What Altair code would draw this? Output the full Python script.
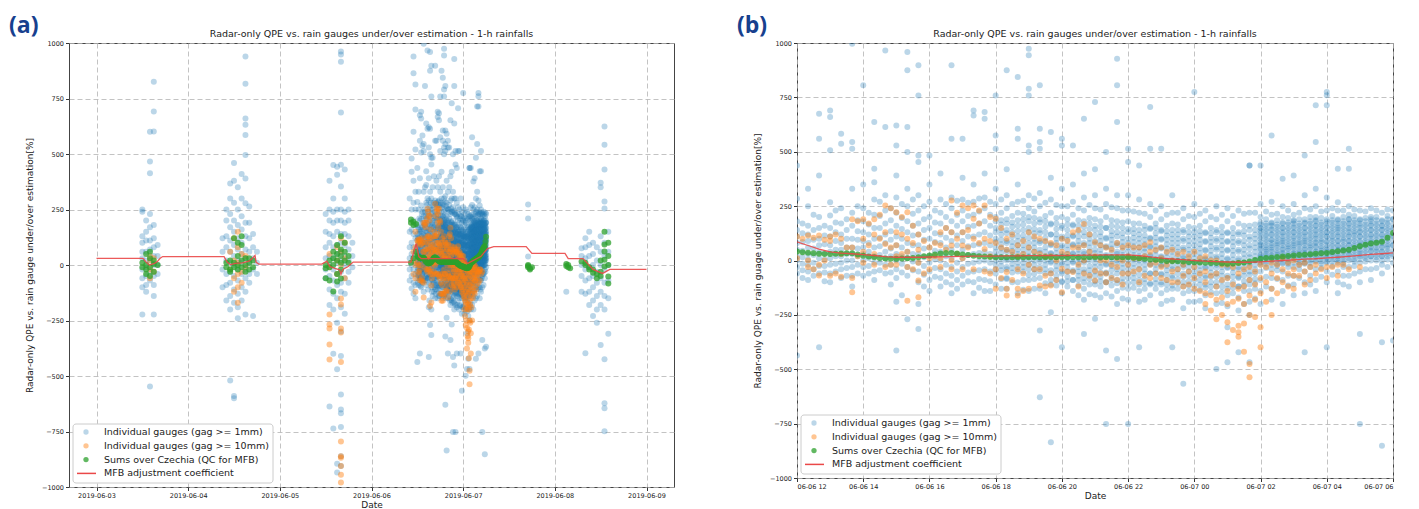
import altair as alt
import pandas as pd

S_BLUE = "Individual gauges (gag >= 1mm)"
S_ORANGE = "Individual gauges (gag >= 10mm)"
S_GREEN = "Sums over Czechia (QC for MFB)"
S_MFB = "MFB adjustment coefficient"
SERIES = [S_BLUE, S_ORANGE, S_GREEN, S_MFB]
COLORS = ["#1f77b4", "#ff7f0e", "#2ca02c", "#ea4848"]
OPAC = [0.3, 0.45, 0.75, 0.9]

TITLE = "Radar-only QPE vs. rain gauges under/over estimation - 1-h rainfalls"
YTITLE_A = "Radar-only QPE vs. rain gauge under/over estimation[%]"
YTITLE_B = "Radar-only QPE vs. rain guage under/over estimation[%]"
Y_TICKS = [-1000, -750, -500, -250, 0, 250, 500, 750, 1000]
# x tick positions: (month, day, hour)
A_TICKS = [(6, 3, 0), (6, 4, 0), (6, 5, 0), (6, 6, 0), (6, 7, 0), (6, 8, 0), (6, 9, 0)]
B_TICKS = [(6, 6, 12), (6, 6, 14), (6, 6, 16), (6, 6, 18), (6, 6, 20), (6, 6, 22),
           (6, 7, 0), (6, 7, 2), (6, 7, 4), (6, 7, 6)]

# ---------------- event 2019-06-06 12:00 -> 2019-06-07 06:00 (panel b, also in a)
B_TIMES = [
    "2019-06-06 12:00", "2019-06-06 12:20", "2019-06-06 12:40", "2019-06-06 13:00", "2019-06-06 13:20",
    "2019-06-06 13:40", "2019-06-06 14:00", "2019-06-06 14:20", "2019-06-06 14:40", "2019-06-06 15:00",
    "2019-06-06 15:20", "2019-06-06 15:40", "2019-06-06 16:00", "2019-06-06 16:20", "2019-06-06 16:40",
    "2019-06-06 17:00", "2019-06-06 17:20", "2019-06-06 17:40", "2019-06-06 18:00", "2019-06-06 18:20",
    "2019-06-06 18:40", "2019-06-06 19:00", "2019-06-06 19:20", "2019-06-06 19:40", "2019-06-06 20:00",
    "2019-06-06 20:20", "2019-06-06 20:40", "2019-06-06 21:00", "2019-06-06 21:20", "2019-06-06 21:40",
    "2019-06-06 22:00", "2019-06-06 22:20", "2019-06-06 22:40", "2019-06-06 23:00", "2019-06-06 23:20",
    "2019-06-06 23:40", "2019-06-07 00:00", "2019-06-07 00:20", "2019-06-07 00:40", "2019-06-07 01:00",
    "2019-06-07 01:20", "2019-06-07 01:40", "2019-06-07 02:00", "2019-06-07 02:20", "2019-06-07 02:40",
    "2019-06-07 03:00", "2019-06-07 03:20", "2019-06-07 03:40", "2019-06-07 04:00", "2019-06-07 04:20",
    "2019-06-07 04:40", "2019-06-07 05:00", "2019-06-07 05:20", "2019-06-07 05:40", "2019-06-07 06:00",
]
B_BLUE = [
    [437, 284, 180, 140, 110, 80, 50, 20, 0, -30, -60, -437],
    [330, 250, 160, 120, 90, 60, 30, 5, -20, -50, -90],
    [675, 560, 391, 200, 150, 100, 70, 40, 10, -25, -60, -399],
    [690, 660, 507, 268, 207, 150, 110, 70, 40, 10, -20, -60, -100],
    [583, 537, 240, 170, 120, 80, 50, 20, -10, -40, -80],
    [997, 545, 514, 330, 220, 160, 100, 60, 30, 0, -30, -70, -120],
    [806, 350, 240, 180, 130, 90, 60, 30, 0, -30, -70],
    [637, 422, 360, 280, 210, 150, 100, 60, 20, -10, -50, -90],
    [966, 614, 300, 230, 170, 120, 80, 40, 10, -20, -60],
    [621, 529, 391, 290, 220, 160, 110, 70, 30, 0, -40, -80, -190, -414],
    [959, 875, 614, 499, 330, 250, 180, 130, 80, 40, 10, -30, -70, -270],
    [898, 759, 483, 453, 300, 230, 170, 120, 70, 30, -10, -50, -100, -200, -315],
    [483, 350, 270, 200, 150, 100, 60, 20, -10, -50, -90, -140],
    [400, 280, 220, 170, 120, 80, 40, 0, -40, -80, -120],
    [898, 560, 290, 240, 180, 130, 90, 50, 10, -30, -70, -110, -150],
    [560, 380, 280, 230, 180, 130, 90, 50, 10, -30, -70, -110],
    [690, 667, 350, 270, 210, 160, 110, 70, 30, -10, -50, -100, -150],
    [683, 652, 400, 290, 240, 180, 130, 80, 40, 0, -40, -90, -140],
    [759, 575, 514, 330, 260, 200, 150, 100, 60, 20, -20, -60, -110],
    [875, 420, 300, 240, 190, 140, 90, 50, 10, -30, -80, -130],
    [844, 606, 560, 350, 270, 220, 160, 110, 70, 30, -10, -50, -100, -150],
    [974, 944, 790, 759, 529, 499, 300, 240, 180, 130, 80, 40, 0, -40, -90, -140],
    [806, 606, 545, 514, 310, 250, 190, 140, 90, 50, 10, -30, -80, -130, -322, -629],
    [591, 380, 280, 220, 170, 120, 70, 30, -10, -60, -110, -238, -836],
    [560, 529, 330, 250, 200, 150, 100, 60, 20, -20, -60, -100, -150, -399],
    [529, 350, 270, 210, 160, 110, 70, 30, -10, -50, -90, -140],
    [652, 400, 290, 230, 180, 130, 80, 40, 0, -40, -80, -130, -180, -338],
    [729, 420, 300, 240, 190, 140, 90, 50, 10, -30, -70, -110, -160, -268],
    [499, 330, 260, 200, 150, 100, 60, 20, -20, -60, -100, -150, -414, -752],
    [928, 806, 637, 300, 240, 180, 130, 80, 40, 0, -40, -90, -140, -200, -453],
    [514, 453, 300, 230, 180, 130, 80, 40, 0, -40, -80, -130, -180, -752],
    [437, 280, 220, 170, 120, 80, 40, 0, -40, -90, -140, -190, -399],
    [706, 514, 260, 200, 150, 100, 60, 20, -20, -60, -110, -160],
    [514, 250, 190, 140, 100, 60, 20, -20, -60, -100, -150, -200],
    [300, 220, 170, 120, 80, 40, 0, -40, -80, -130, -180, -399],
    [240, 190, 140, 100, 60, 20, -20, -60, -100, -150, -220, -567],
    [775, 260, 200, 150, 110, 70, 30, -10, -50, -90, -140, -190],
    [230, 180, 130, 90, 50, 10, -30, -70, -110, -160, -220],
    [250, 190, 140, 100, 60, 20, -20, -60, -100, -150, -200, -499],
    [240, 180, 130, 90, 50, 10, -30, -70, -110, -160, -210, -307, -468],
    [230, 170, 120, 80, 40, 0, -40, -80, -120, -170, -230, -422],
    [437, 437, 220, 160, 110, 70, 30, -10, -50, -90, -140, -190, -250, -468],
    [437, 260, 200, 165, 150, 135, 110, 85, 70, 55, 30, 15, -10, -50, -90, -140, -200],
    [575, 270, 210, 175, 160, 140, 120, 95, 80, 60, 40, 20, 0, -40, -80, -130, -180],
    [376, 250, 200, 170, 150, 130, 110, 90, 70, 50, 30, 10, -10, -50, -90, -140, -200],
    [391, 260, 210, 185, 170, 150, 130, 110, 90, 70, 50, 30, 10, -30, -70, -110, -160],
    [483, 300, 240, 190, 170, 150, 130, 110, 90, 70, 50, 30, 10, -10, -50, -100, -150, -422],
    [714, 545, 330, 250, 200, 180, 160, 140, 120, 100, 80, 60, 40, 20, 0, -40, -90, -140],
    [775, 760, 714, 290, 230, 190, 170, 150, 130, 110, 90, 70, 50, 30, 10, -10, -50, -100, -399],
    [422, 268, 230, 190, 170, 150, 130, 110, 90, 70, 50, 30, 10, -10, -50, -100, -150],
    [514, 422, 250, 210, 190, 170, 150, 130, 110, 90, 70, 50, 30, 10, -30, -70, -120],
    [230, 190, 170, 150, 130, 110, 90, 70, 50, 30, 10, -10, -50, -100, -338, -752],
    [240, 200, 180, 160, 140, 120, 100, 80, 60, 40, 20, 0, -40, -90],
    [220, 180, 160, 140, 120, 100, 80, 60, 40, 20, 0, -20, -60, -376, -852],
    [230, 190, 150, 110, 70, 30, -10, -368],
]
B_ORANGE = [
    [110, 10], [115, 0, -30], [115, -20, -69], [110, 90, -70], [100, 30, -75],
    [190, 60, -80, -146], [190, 100, 40, -10], [190, 120, 30, -20], [253, 130, 76, -30],
    [222, 130, 70, 20, -20], [222, 100, 40, -30, -185], [120, 50, -10, -92, -169],
    [60, 10, -40], [130, 70, 10, -30], [276, 130, 69, 0, -40], [253, 130, 69, 10, -40],
    [253, 192, 100, -40], [253, 100, 53, -50], [192, 80, -40, -130], [100, 50, -53, -130, -161],
    [70, 20, -40, -130, -161], [130, 60, -20, -130], [100, 30, -40, -115], [80, 20, -60, -115],
    [100, 40, -38, -146], [130, 60, -53], [168, 70, 0, -60], [84, 20, -46, -92],
    [60, 0, -60, -100], [80, 10, -30, -90], [70, 20, -20, -60], [60, 10, -40, -100],
    [84, 40, -20, -80], [60, 10, -30, -80], [50, 0, -50, -100], [40, -20, -70, -120],
    [40, -30, -80, -130], [20, -50, -100, -150, -200], [0, -60, -120, -180, -270],
    [-20, -80, -140, -200, -284, -376], [-10, -60, -130, -176, -300, -330, -350],
    [-30, -90, -161, -250, -476, -537], [-20, -80, -150, -307, -399], [-10, -60, -130, -250],
    [10, -40, -100], [0, -40, -70, -130], [-10, -50, -110], [-20, -60], [-30, -80],
    [-20, -70], [-40], [-30], [], [], [],
]
B_GREEN = [41, 36, 31, 30, 32, 33, 22, 15, 9, 8, 10, 15, 23, 32, 35, 28, 22, 18, 15, 15,
           15, 15, 15, 15, 15, 15, 15, 15, 15, 15, 15, 10, 5, 0, -3, -5, -8, -10, -12, -15,
           -12, -5, 8, 13, 18, 23, 27, 31, 35, 42, 50, 65, 78, 86, 127]
B_MFB = [86, 69, 52, 40, 34, 31, 27, 23, 18, 15, 15, 15, 16, 17, 18, 19, 20, 20, 20, 21,
         21, 22, 22, 23, 23, 24, 25, 25, 26, 26, 26, 22, 17, 11, 7, 4, 0, -3, -5, -7,
         -8, -8, -6, -3, 0, 3, 6, 8, 12, 15, 19, 24, 28, 31, 35]
# extra gauges inside the dense band, same steps as B_TIMES from 18:00 on
B_DENSE = [
    [180, 130, 85, 40, 0, -40], [170, 125, 80, 40, 0, -40, -85], [185, 135, 90, 50, 10, -30],
    [200, 150, 105, 60, 20, -20, -65], [175, 125, 80, 35, -5, -50], [165, 120, 75, 35, -5, -45, -90],
    [160, 110, 70, 30, -10, -50, -95], [165, 115, 75, 35, -5, -45, -90], [155, 110, 70, 30, -10, -55, -100],
    [160, 115, 75, 35, -10, -50, -95], [150, 105, 65, 25, -15, -55, -100], [155, 110, 70, 30, -15, -60, -105],
    [145, 100, 60, 20, -20, -60, -105], [140, 100, 60, 20, -20, -65, -110], [145, 105, 65, 25, -15, -60, -105],
    [135, 95, 55, 15, -25, -65, -110], [140, 100, 60, 20, -25, -70, -115], [130, 90, 50, 10, -30, -75, -120],
    [130, 90, 50, 10, -30, -70, -115], [125, 85, 45, 5, -35, -80, -125], [130, 90, 50, 10, -35, -75, -120],
    [125, 85, 45, 5, -35, -80, -130], [130, 90, 50, 10, -30, -75, -120], [140, 95, 55, 15, -25, -65, -110],
    [175, 150, 125, 100, 75, 50, 25, 5, -20], [170, 145, 120, 95, 70, 50, 25, 5, -20],
    [175, 150, 125, 100, 80, 55, 35, 10, -15], [180, 155, 130, 105, 80, 60, 35, 15, -10],
    [175, 150, 125, 100, 80, 55, 35, 10, -15], [185, 160, 135, 110, 85, 65, 40, 20, -5],
    [180, 155, 130, 110, 85, 60, 40, 15, -5], [185, 160, 140, 115, 90, 65, 45, 20, 0],
    [190, 165, 140, 115, 90, 70, 45, 25, 0], [185, 160, 135, 110, 85, 65, 40, 20],
    [190, 165, 140, 115, 90, 65, 45, 20], [185, 160, 140, 115, 90, 65, 40, 20],
    [190, 165, 140, 115, 90, 70, 45, 20],
]

# in-between 10-minute steps of the same event
M_TIMES = [
    "2019-06-06 12:10", "2019-06-06 12:30", "2019-06-06 12:50", "2019-06-06 13:10", "2019-06-06 13:30",
    "2019-06-06 13:50", "2019-06-06 14:10", "2019-06-06 14:30", "2019-06-06 14:50", "2019-06-06 15:10",
    "2019-06-06 15:30", "2019-06-06 15:50", "2019-06-06 16:10", "2019-06-06 16:30", "2019-06-06 16:50",
    "2019-06-06 17:10", "2019-06-06 17:30", "2019-06-06 17:50", "2019-06-06 18:10", "2019-06-06 18:30",
    "2019-06-06 18:50", "2019-06-06 19:10", "2019-06-06 19:30", "2019-06-06 19:50", "2019-06-06 20:10",
    "2019-06-06 20:30", "2019-06-06 20:50", "2019-06-06 21:10", "2019-06-06 21:30", "2019-06-06 21:50",
    "2019-06-06 22:10", "2019-06-06 22:30", "2019-06-06 22:50", "2019-06-06 23:10", "2019-06-06 23:30",
    "2019-06-06 23:50", "2019-06-07 00:10", "2019-06-07 00:30", "2019-06-07 00:50", "2019-06-07 01:10",
    "2019-06-07 01:30", "2019-06-07 01:50", "2019-06-07 02:10", "2019-06-07 02:30", "2019-06-07 02:50",
    "2019-06-07 03:10", "2019-06-07 03:30", "2019-06-07 03:50", "2019-06-07 04:10", "2019-06-07 04:30",
    "2019-06-07 04:50", "2019-06-07 05:10", "2019-06-07 05:30", "2019-06-07 05:50",
]
M_BLUE = [
    [170, 125, 85, 45, 15, -15, -45, -80], [210, 140, 95, 55, 25, -10, -40, -70],
    [160, 115, 75, 35, 5, -25, -55, -95], [230, 175, 130, 90, 50, 20, -15, -50],
    [190, 140, 100, 60, 30, 0, -35, -70], [250, 185, 135, 95, 55, 20, -20, -60],
    [220, 165, 120, 80, 40, 10, -25, -60], [270, 205, 150, 105, 65, 25, -10, -45],
    [240, 185, 135, 95, 55, 20, -20, -55, -110], [260, 195, 145, 100, 60, 20, -15, -55, -160],
    [280, 215, 160, 115, 70, 30, -5, -45], [250, 190, 140, 95, 55, 15, -25, -65, -120],
    [230, 175, 125, 85, 45, 5, -35, -75], [260, 200, 150, 105, 60, 20, -20, -60, -100],
    [275, 210, 160, 115, 70, 30, -10, -50, -90, -130], [265, 205, 155, 110, 65, 25, -15, -55, -95],
    [285, 225, 170, 120, 75, 35, -5, -45, -85, -125], [270, 210, 160, 115, 70, 30, -10, -50, -95, -140],
    [280, 220, 165, 120, 75, 35, -5, -45, -85, -130], [260, 205, 155, 110, 65, 25, -15, -55, -100],
    [275, 215, 165, 115, 70, 30, -10, -50, -90, -135], [285, 225, 170, 125, 80, 40, 0, -40, -85, -130],
    [265, 205, 155, 105, 60, 20, -20, -60, -105, -150], [255, 195, 145, 100, 55, 15, -25, -70, -115],
    [250, 190, 140, 95, 50, 10, -30, -75, -120], [240, 185, 135, 90, 50, 10, -30, -70, -115, -160],
    [255, 195, 145, 100, 60, 20, -25, -65, -110, -155], [235, 180, 130, 90, 50, 10, -30, -75, -120, -170],
    [245, 185, 135, 95, 55, 15, -25, -70, -115, -165], [230, 175, 125, 85, 45, 5, -35, -80, -125, -175],
    [225, 170, 125, 85, 45, 5, -35, -80, -125], [215, 160, 115, 75, 40, 0, -40, -85, -130, -180],
    [230, 170, 125, 85, 45, 5, -40, -85, -130], [210, 160, 115, 75, 35, -5, -45, -90, -135, -185],
    [220, 165, 120, 80, 40, 0, -40, -85, -130], [205, 155, 110, 70, 30, -10, -50, -95, -140, -190],
    [215, 160, 115, 75, 35, -5, -45, -90, -135, -185], [200, 150, 105, 65, 25, -15, -55, -100, -145],
    [210, 155, 110, 70, 30, -10, -50, -95, -145, -195], [205, 150, 105, 65, 25, -15, -55, -100, -150],
    [215, 160, 115, 70, 30, -10, -50, -95, -140, -200], [220, 165, 120, 80, 40, 0, -40, -85, -130, -175],
    [225, 190, 160, 135, 110, 85, 60, 40, 20, -5, -35, -75, -120],
    [215, 185, 155, 130, 105, 80, 60, 35, 10, -15, -45, -85],
    [230, 195, 165, 140, 115, 90, 65, 45, 20, -5, -30, -70, -115],
    [220, 190, 160, 135, 110, 85, 65, 40, 15, -10, -40, -80],
    [235, 200, 170, 145, 120, 95, 70, 50, 25, 0, -30, -70, -110],
    [225, 195, 165, 140, 115, 90, 65, 45, 20, -5, -35, -75],
    [240, 205, 175, 150, 125, 100, 75, 50, 30, 5, -25, -65],
    [230, 200, 170, 145, 120, 95, 70, 50, 25, 0, -30, -70, -110],
    [235, 205, 175, 150, 125, 100, 75, 55, 30, 5, -25, -60],
    [225, 195, 165, 140, 115, 90, 70, 45, 20, -5, -40],
    [230, 200, 170, 145, 120, 95, 75, 50, 25, 0, -35],
    [235, 205, 175, 150, 125, 100, 75, 55, 30, 5, -30],
]
# extra gauges inside the dense band, same steps as M_TIMES from 18:10 on
M_DENSE = [
    [185, 140, 95, 55, 15, -25], [175, 130, 85, 45, 5, -35], [190, 140, 95, 50, 10, -30],
    [195, 145, 100, 60, 20, -20, -60], [180, 130, 85, 40, 0, -40], [170, 120, 80, 35, -5, -45, -90],
    [165, 115, 70, 30, -10, -50, -95], [160, 110, 70, 30, -10, -50, -90], [170, 120, 80, 40, 0, -45, -85],
    [155, 110, 70, 30, -10, -55, -95], [160, 115, 75, 35, -5, -45, -90], [150, 105, 65, 25, -15, -55, -100],
    [145, 105, 65, 25, -15, -60, -100], [140, 95, 55, 20, -20, -60, -105], [150, 105, 65, 25, -20, -60, -105],
    [135, 95, 55, 15, -25, -65, -110], [140, 100, 60, 20, -20, -60, -105], [130, 90, 50, 10, -30, -70, -115],
    [135, 95, 55, 15, -25, -65, -110], [125, 85, 45, 5, -35, -75, -120], [130, 90, 50, 10, -30, -70, -120],
    [125, 85, 45, 5, -35, -75, -125], [135, 90, 50, 10, -30, -70, -115], [140, 100, 60, 20, -20, -60, -105],
    [170, 145, 120, 95, 70, 50, 30, 10, -15], [165, 140, 115, 90, 70, 45, 25, 0, -25],
    [175, 150, 125, 100, 75, 55, 30, 10, -15], [170, 145, 120, 95, 75, 50, 30, 5, -20],
    [180, 155, 130, 105, 80, 60, 35, 15, -10], [175, 150, 125, 100, 80, 55, 35, 10, -15],
    [185, 160, 135, 110, 90, 65, 40, 20, -5], [180, 155, 130, 105, 85, 60, 40, 15, -10],
    [185, 160, 135, 115, 90, 65, 45, 20, -5], [180, 155, 130, 105, 80, 60, 35, 10],
    [185, 160, 135, 110, 85, 60, 40, 15], [190, 165, 140, 115, 90, 65, 40, 20],
]
M_ORANGE = [
    [100], [105, -40], [95, 0], [120, -60], [60], [180, 20], [170, 70], [210, 100],
    [240, 60, -20], [200, 120, 30], [160, 80, -40], [90, -60], [80, 20], [150, 50],
    [220, 100, 30], [240, 140, 60], [230, 170, 80], [200, 90, 20, -60], [150, 60, -80],
    [120, 40, -90], [90, 30, -60, -140], [110, 40, -40], [90, 20, -70, -120], [70, 0, -90],
    [90, 30, -50], [140, 60, -20, -120], [120, 40, -70], [70, 0, -60], [50, -20, -80],
    [60, 0, -60, -110], [60, 10, -50], [70, 20, -70], [50, -10, -60], [40, -20, -90],
    [30, -40, -100], [20, -50, -110], [10, -60, -140], [0, -70, -160, -230],
    [-20, -90, -170, -250], [-30, -110, -190, -320], [-40, -120, -200, -290, -420],
    [-50, -110, -180, -260], [-30, -100, -190], [-20, -80, -150], [-10, -60, -120],
    [-20, -70], [-30, -90], [-40], [-30], [-20], [], [], [], [],
]
M_GREEN = [38, 33, 30, 31, 33, 28, 18, 12, 8, 9, 12, 19, 28, 34, 32, 25, 20, 16, 15, 15,
           15, 15, 15, 15, 15, 15, 15, 15, 15, 15, 13, 8, 3, -2, -4, -7, -9, -11, -14, -14,
           -9, 2, 11, 16, 21, 25, 29, 33, 39, 46, 58, 72, 82, 105]

# ---------------- rest of the week (panel a only)
A_BLUE = [
    ("2019-06-03 12:00", [250, 240, 130, 100, 60, 30, -20, -60, -100, -223]),
    ("2019-06-03 13:00", [200, 150, 110, 60, 20, -10, -50, -90, -120]),
    ("2019-06-03 14:00", [600, 466, 413, 230, 170, 110, 70, 20, -30, -70, -547]),
    ("2019-06-03 15:00", [826, 691, 601, 180, 120, 80, 40, 0, -50, -90, -140, -223]),
    ("2019-06-03 16:00", [90, 40, 0, -40]),
    ("2019-06-04 09:00", [120, 60, -20, -100]),
    ("2019-06-04 10:00", [250, 200, 130, 80, 20, -40, -90, -160]),
    ("2019-06-04 11:00", [367, 300, 230, 170, 110, 60, 10, -30, -80, -140, -200, -520]),
    ("2019-06-04 12:00", [460, 380, 280, 200, 150, 90, 40, 0, -50, -110, -170, -590, -600]),
    ("2019-06-04 13:00", [350, 250, 180, 120, 70, 20, -20, -70, -130, -190, -240]),
    ("2019-06-04 14:00", [410, 300, 220, 160, 100, 50, 10, -40, -100, -160]),
    ("2019-06-04 15:00", [939, 817, 660, 632, 586, 496, 390, 278, 190, 130, 70, 30, -20, -60, -120, -223]),
    ("2019-06-04 16:00", [263, 190, 120, 60, 10, -40, -80]),
    ("2019-06-04 17:00", [140, 80, 30, -20, -230]),
    ("2019-06-04 18:00", [60, 10, -40]),
    ("2019-06-05 12:00", [230, 150, 80, 30, -20, -60]),
    ("2019-06-05 13:00", [380, 250, 200, 140, 100, 40, 0, -50, -110, -180, -637]),
    ("2019-06-05 14:00", [450, 300, 240, 190, 130, 80, 30, -20, -70, -130, -200, -400, -736]),
    ("2019-06-05 15:00", [443, 407, 250, 200, 150, 90, 50, 10, -40, -90, -150, -260, -470, -895, -935]),
    ("2019-06-05 16:00", [962, 948, 916, 687, 452, 354, 250, 200, 140, 100, 60, 20, -30, -80, -120,
                          -190, -300, -410, -583, -651, -668, -730, -862, -905]),
    ("2019-06-05 17:00", [430, 300, 240, 190, 140, 90, 40, 0, -60, -130, -220]),
    ("2019-06-05 18:00", [250, 200, 130, 70, 20, -30, -80]),
    ("2019-06-05 19:00", [100, 40, -10]),
    ("2019-06-06 10:00", [300, 150, 80, 30, -20, -70]),
    ("2019-06-06 10:30", [480, 420, 250, 160, 100, 50, 0, -50, -106]),
    ("2019-06-06 11:00", [939, 864, 600, 380, 280, 200, 140, 80, 30, -20, -80, -130]),
    ("2019-06-06 11:30", [813, 700, 520, 330, 250, 180, 120, 60, 10, -40, -90, -150]),
    ("2019-06-07 17:00", [272, 210, 38]),
    ("2019-06-08 03:00", [-120]),
    ("2019-06-08 07:00", [75, 40, 0, -50, -120]),
    ("2019-06-08 08:00", [120, 80, 30, -20, -70, -130, -398]),
    ("2019-06-08 09:00", [150, 90, 40, -10, -60, -120, -180]),
    ("2019-06-08 10:00", [100, 50, 0, -50, -100, -160, -230]),
    ("2019-06-08 11:00", [80, 20, -30, -80, -140, -200, -260]),
    ("2019-06-08 12:00", [370, 350, 130, 60, 0, -60, -120, -180, -360]),
    ("2019-06-08 13:00", [624, 542, 430, 286, 255, 100, 40, -20, -80, -140, -200, -425, -623, -645, -749]),
    ("2019-06-08 14:00", [150, 60, 0, -70, -150, -310]),
]
A_ORANGE = [
    ("2019-06-03 14:00", [40, 20, -20, -60]),
    ("2019-06-03 15:00", [30, -30]),
    ("2019-06-04 11:00", [60, -20]),
    ("2019-06-04 12:00", [120, 20, -60, -120]),
    ("2019-06-04 13:00", [150, 80, 10, -40, -100, -170]),
    ("2019-06-04 14:00", [50, -30, -80]),
    ("2019-06-04 15:00", [40, -10]),
    ("2019-06-05 13:00", [50, -10, -223, -268, -286, -358, -426]),
    ("2019-06-05 15:00", [80, 20, -40]),
    ("2019-06-05 16:00", [120, 60, 0, -151, -178, -286, -304, -437, -795, -862, -868, -905, -945, -980]),
    ("2019-06-05 17:00", [100, 30, -60]),
    ("2019-06-06 11:00", [60, 20, -40]),
    ("2019-06-06 11:30", [150, 80, 0, -60, -120]),
]
A_GREEN = [
    ("2019-06-03 12:00", [10, -10]),
    ("2019-06-03 13:00", [50, 0, -20, -40]),
    ("2019-06-03 14:00", [60, 30, -10, -50]),
    ("2019-06-03 15:00", [20, -30, 5]),
    ("2019-06-03 16:00", [0]),
    ("2019-06-04 10:00", [10, -10]),
    ("2019-06-04 11:00", [20, -20, -30]),
    ("2019-06-04 12:00", [120, 10, -10]),
    ("2019-06-04 13:00", [100, 40, 0, -20]),
    ("2019-06-04 14:00", [130, 90, 20, -10]),
    ("2019-06-04 15:00", [30, 0, -30]),
    ("2019-06-04 16:00", [30, 10, -20]),
    ("2019-06-04 17:00", [20, -10]),
    ("2019-06-05 12:00", [0, -15, -60]),
    ("2019-06-05 13:00", [20, -10, -70]),
    ("2019-06-05 14:00", [60, 30, 0, -119]),
    ("2019-06-05 15:00", [90, 50, 20, -40, -74]),
    ("2019-06-05 16:00", [130, 70, 40, 10, -20, -61]),
    ("2019-06-05 17:00", [100, 60, 20]),
    ("2019-06-05 18:00", [40, 10]),
    ("2019-06-06 10:20", [205, 190, 10]),
    ("2019-06-06 11:00", [195, 180, 30]),
    ("2019-06-06 11:40", [185, 60]),
    ("2019-06-07 17:00", [0, -5, -10]),
    ("2019-06-07 17:30", [-15, -20]),
    ("2019-06-07 18:00", [-10]),
    ("2019-06-08 03:00", [5, -5]),
    ("2019-06-08 03:30", [0, -10]),
    ("2019-06-08 04:00", [-15]),
    ("2019-06-08 07:00", [16]),
    ("2019-06-08 08:00", [10, 0]),
    ("2019-06-08 09:00", [-10, -20]),
    ("2019-06-08 10:00", [-20, -35]),
    ("2019-06-08 11:00", [-40, -60]),
    ("2019-06-08 12:00", [-50, -30, 20]),
    ("2019-06-08 13:00", [150, 92, 61, 24, -7]),
    ("2019-06-08 14:00", [100, 40, 0, -52, -83]),
]
A_MFB_TIMES = [
    "2019-06-03 00:00", "2019-06-03 12:10", "2019-06-03 13:00", "2019-06-03 13:50", "2019-06-03 15:10",
    "2019-06-03 16:00", "2019-06-03 16:40", "2019-06-03 17:20", "2019-06-04 09:24", "2019-06-04 10:15",
    "2019-06-04 11:06", "2019-06-04 12:24", "2019-06-04 14:12", "2019-06-04 15:54", "2019-06-04 16:48",
    "2019-06-04 17:30", "2019-06-04 17:48", "2019-06-04 18:30", "2019-06-05 11:00", "2019-06-05 12:18",
    "2019-06-05 13:06", "2019-06-05 14:24", "2019-06-05 15:40", "2019-06-05 16:00", "2019-06-05 16:30",
    "2019-06-05 17:54", "2019-06-05 19:12", "2019-06-06 10:18", "2019-06-06 11:42", "2019-06-06 12:24",
    "2019-06-06 13:00", "2019-06-07 00:00", "2019-06-07 01:12", "2019-06-07 04:36", "2019-06-07 06:24",
    "2019-06-07 08:00", "2019-06-07 16:30", "2019-06-07 18:00", "2019-06-08 02:40", "2019-06-08 03:30",
    "2019-06-08 07:24", "2019-06-08 10:00", "2019-06-08 12:30", "2019-06-08 14:24", "2019-06-09 00:00",
]
A_MFB_VALUES = [30, 30, 13, 0, 7, 17, 30, 38, 38, 12,
                2, 7, 10, 17, 30, 43, 12, 4, 4, 17,
                -7, -15, -22, -42, -20, -7, 13, 13, 96, 38,
                29, 29, 7, 38, 74, 83, 83, 52, 52, 29,
                29, -20, -38, -20, -20]


def rows(columns):
    out = []
    for t, vals in columns:
        for v in vals:
            out.append({"t": t, "v": v})
    df = pd.DataFrame(out, columns=["t", "v"])
    df["t"] = pd.to_datetime(df["t"])
    return df


ev_blue = (list(zip(B_TIMES, B_BLUE)) + list(zip(M_TIMES, M_BLUE))
           + list(zip(B_TIMES[18:], B_DENSE)) + list(zip(M_TIMES[18:], M_DENSE)))
ev_orange = list(zip(B_TIMES, B_ORANGE)) + list(zip(M_TIMES, M_ORANGE))
ev_green = [(t, [g]) for t, g in zip(B_TIMES, B_GREEN)] + [(t, [g]) for t, g in zip(M_TIMES, M_GREEN)]

FONT = "DejaVu Sans"


def dt(m, d, hh, mm=0):
    return alt.DateTime(year=2019, month=m, date=d, hours=hh, minutes=mm)


def legend_layers(h):
    """Matplotlib-style legend box drawn in the lower-left corner of the plot."""
    one = pd.DataFrame({"k": [0]})
    top = h - 63
    layers = [alt.Chart(one).mark_rect(fill="white", stroke="#cccccc", strokeWidth=1,
                                        cornerRadius=3).encode(
        x=alt.value(4), x2=alt.value(204), y=alt.value(top), y2=alt.value(h - 4))]
    for i, (name, col, op) in enumerate(zip(SERIES, COLORS, OPAC)):
        yy = top + 8 + 13.8 * i
        if i < 3:
            layers.append(alt.Chart(one).mark_circle(size=28, color=col, opacity=op).encode(
                x=alt.value(17), y=alt.value(yy)))
        else:
            layers.append(alt.Chart(one).mark_rule(color=col, strokeWidth=1.5).encode(
                x=alt.value(8), x2=alt.value(27), y=alt.value(yy)))
        layers.append(alt.Chart(pd.DataFrame({"lab": [name]})).mark_text(
            align="left", baseline="middle", fontSize=9.5, font=FONT, color="#222222").encode(
            x=alt.value(35), y=alt.value(yy), text="lab:N"))
    return layers


def panel(blue, orange, green, mfb, domain, ticks, tick_fmt, ytitle, label, w, h):
    xs = alt.Scale(domain=domain)
    ys = alt.Scale(domain=[-1000, 1000], nice=False)
    xax = alt.Axis(title="Date", format=tick_fmt, values=[dt(*t) for t in ticks], titlePadding=1,
                   gridColor="#b4b4b4", gridDash=[5, 3], gridWidth=0.8, domain=False,
                   tickColor="#333333", labelFont=FONT, titleFont=FONT, labelFontSize=6.5,
                   titleFontSize=9, titleFontWeight="normal", labelColor="#222222",
                   titleColor="#222222", tickSize=3.5, labelPadding=2)
    yax = alt.Axis(title=ytitle, values=Y_TICKS, format="d", titlePadding=7,
                   gridColor="#b4b4b4", gridDash=[5, 3], gridWidth=0.8, domain=False,
                   tickColor="#333333", labelFont=FONT, titleFont=FONT, labelFontSize=6.5,
                   titleFontSize=9, titleFontWeight="normal", labelColor="#222222",
                   titleColor="#222222", tickSize=3.5, labelPadding=2)
    X = alt.X("t:T", scale=xs, axis=xax)
    Y = alt.Y("v:Q", scale=ys, axis=yax)

    def pts(df, col, op):
        return alt.Chart(df).mark_circle(size=36, color=col, opacity=op, clip=True).encode(x=X, y=Y)

    layers = [pts(blue, COLORS[0], OPAC[0]), pts(orange, COLORS[1], OPAC[1]),
              pts(green, COLORS[2], OPAC[2])]
    layers.append(alt.Chart(mfb).mark_line(color=COLORS[3], strokeWidth=1.3, opacity=OPAC[3],
                                           clip=True).encode(x=X, y=Y))
    layers += legend_layers(h)
    layers.append(alt.Chart(pd.DataFrame({"lab": [TITLE]})).mark_text(
        align="center", baseline="alphabetic", fontSize=9.5, font=FONT, color="#222222").encode(
        x=alt.value(w / 2), y=alt.value(-6), text="lab:N"))
    layers.append(alt.Chart(pd.DataFrame({"lab": [label]})).mark_text(
        align="left", baseline="alphabetic", fontSize=23, fontWeight="bold", color="#17408e",
        font="Open Sans").encode(x=alt.value(-60), y=alt.value(-10), text="lab:N"))
    return alt.layer(*layers).properties(width=w, height=h)


pa = panel(rows(A_BLUE + ev_blue), rows(A_ORANGE + ev_orange), rows(A_GREEN + ev_green),
           pd.DataFrame({"t": pd.to_datetime(A_MFB_TIMES), "v": A_MFB_VALUES}),
           [dt(6, 2, 16, 48), dt(6, 9, 7, 12)], A_TICKS, "%Y-%m-%d", YTITLE_A, "(a)", 605, 444)
pb = panel(rows(ev_blue), rows(ev_orange), rows(ev_green),
           pd.DataFrame({"t": pd.to_datetime(B_TIMES), "v": B_MFB}),
           [dt(6, 6, 12), dt(6, 7, 6)], B_TICKS, "%m-%d %H", YTITLE_B, "(b)", 596, 435)

chart = alt.hconcat(pa, pb, spacing=61).properties(
    padding={"left": 0, "top": 6, "right": 0, "bottom": 0}
).configure_view(stroke="#444444", strokeWidth=1)

chart.save("out.html", embed_options={"renderer": "svg", "actions": False})
